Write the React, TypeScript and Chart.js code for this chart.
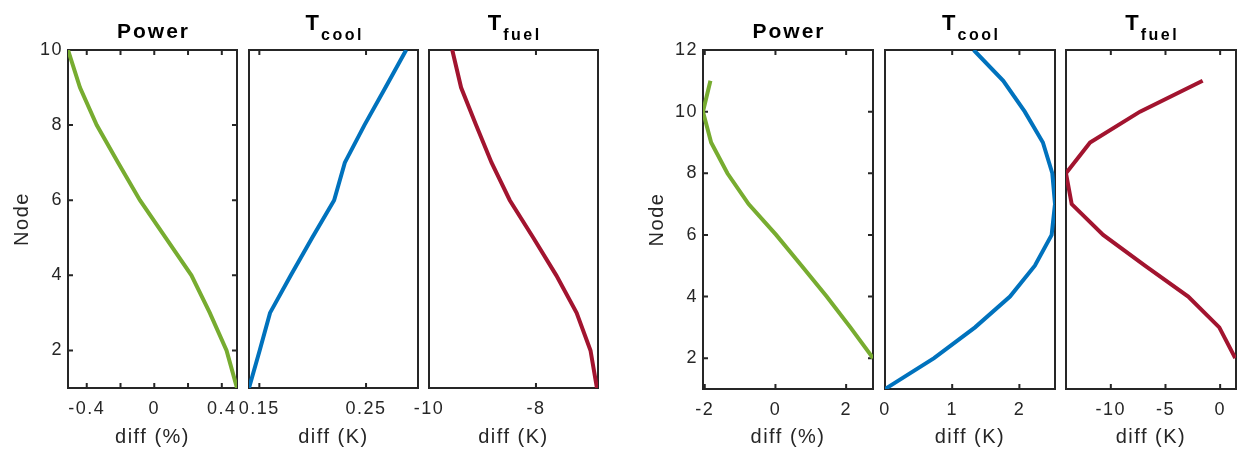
import React, { useEffect, useRef } from 'react';
import { Chart, registerables } from 'chart.js';

Chart.register(...registerables);

// ---------------- DATA ----------------
// Left group (nodes 1..10)
const nodesLeft = [1, 2, 3, 4, 5, 6, 7, 8, 9, 10];
const powerLeft = [0.49, 0.428, 0.329, 0.22, 0.068, -0.085, -0.214, -0.341, -0.44, -0.511];
const coolLeft = [0.1403, 0.1503, 0.16, 0.1795, 0.1995, 0.2201, 0.2301, 0.2485, 0.2682, 0.2876];
const fuelLeft = [-6.86, -6.98, -7.24, -7.62, -8.05, -8.49, -8.83, -9.12, -9.4, -9.565];

// Right group
const nodesRightCool = [1, 2, 3, 4, 5, 6, 7, 8, 9, 10, 11, 12];
const nodesRightPowerFuel = [2, 3, 4, 5, 6, 7, 8, 9, 10, 11];
const powerRight = [2.76, 2.12, 1.45, 0.74, 0.02, -0.76, -1.36, -1.82, -2.05, -1.84];
const coolRight = [0.0, 0.73, 1.34, 1.86, 2.23, 2.48, 2.53, 2.49, 2.35, 2.08, 1.76, 1.32];
const fuelRight = [1.38, -0.08, -2.92, -6.88, -10.7, -13.58, -14.1, -11.9, -7.33, -1.6];

// Tick values and labels
const yTicksLeft = [2, 4, 6, 8, 10];
const yTicksRight = [2, 4, 6, 8, 10, 12];
const xTicksPowerLeft = [-0.4, -0.2, 0, 0.2, 0.4];
const xTickLabelsPowerLeft = ['-0.4', '', '0', '', '0.4'];
const xTicksCoolLeft = [0.15, 0.25];
const xTickLabelsCoolLeft = ['0.15', '0.25'];
const xTicksFuelLeft = [-10, -8];
const xTickLabelsFuelLeft = ['-10', '-8'];
const xTicksPowerRight = [-2, 0, 2];
const xTickLabelsPowerRight = ['-2', '0', '2'];
const xTicksCoolRight = [0, 1, 2];
const xTickLabelsCoolRight = ['0', '1', '2'];
const xTicksFuelRight = [-10, -5, 0];
const xTickLabelsFuelRight = ['-10', '-5', '0'];

// Texts
const titlesMain = ['Power', 'T', 'T'];
const titlesSub = ['', 'cool', 'fuel'];
const xAxisLabels = ['diff (%)', 'diff (K)', 'diff (K)'];
const yAxisLabel = 'Node';

// Axis limits
const yRangeLeft = [1, 10];
const yRangeRight = [1, 12];
const xRangePowerLeft = [-0.511, 0.49];
const xRangeCoolLeft = [0.1403, 0.2987];
const xRangeFuelLeft = [-10, -6.84];
const xRangePowerRight = [-2.05, 2.76];
const xRangeCoolRight = [0, 2.53];
const xRangeFuelRight = [-14.1, 1.45];

// ---------------- STYLE / LAYOUT ----------------
const W = 1237;
const H = 452;
const PAD = 40;
const FONT = "'Liberation Sans', Arial, Helvetica, sans-serif";
const AX = '#262626';
const GREEN = '#77AC30';
const BLUE = '#0072BD';
const RED = '#A2142F';

type PanelSpec = {
  L: number; R: number; T: number; B: number;
  canvasLeft: number;
  nodes: number[]; values: number[]; color: string;
  xRange: number[]; yRange: number[];
  xTicks: number[]; xTickLabels: string[];
  yTicks: number[] | null;
  yTitleCenter: number;
  xLabel: string; titleMain: string; titleSub: string;
};

const panels: PanelSpec[] = [
  { L: 68, R: 237, T: 50, B: 388, canvasLeft: 0, nodes: nodesLeft, values: powerLeft, color: GREEN,
    xRange: xRangePowerLeft, yRange: yRangeLeft, xTicks: xTicksPowerLeft, xTickLabels: xTickLabelsPowerLeft,
    yTicks: yTicksLeft, yTitleCenter: 22.8, xLabel: xAxisLabels[0], titleMain: titlesMain[0], titleSub: titlesSub[0] },
  { L: 249, R: 418, T: 50, B: 388, canvasLeft: 249 - PAD, nodes: nodesLeft, values: coolLeft, color: BLUE,
    xRange: xRangeCoolLeft, yRange: yRangeLeft, xTicks: xTicksCoolLeft, xTickLabels: xTickLabelsCoolLeft,
    yTicks: null, yTitleCenter: 0, xLabel: xAxisLabels[1], titleMain: titlesMain[1], titleSub: titlesSub[1] },
  { L: 429, R: 598, T: 50, B: 388, canvasLeft: 429 - PAD, nodes: nodesLeft, values: fuelLeft, color: RED,
    xRange: xRangeFuelLeft, yRange: yRangeLeft, xTicks: xTicksFuelLeft, xTickLabels: xTickLabelsFuelLeft,
    yTicks: null, yTitleCenter: 0, xLabel: xAxisLabels[2], titleMain: titlesMain[2], titleSub: titlesSub[2] },
  { L: 703, R: 873, T: 50, B: 389, canvasLeft: 620, nodes: nodesRightPowerFuel, values: powerRight, color: GREEN,
    xRange: xRangePowerRight, yRange: yRangeRight, xTicks: xTicksPowerRight, xTickLabels: xTickLabelsPowerRight,
    yTicks: yTicksRight, yTitleCenter: 657.2 - 620, xLabel: xAxisLabels[0], titleMain: titlesMain[0], titleSub: titlesSub[0] },
  { L: 885, R: 1055, T: 50, B: 389, canvasLeft: 885 - PAD, nodes: nodesRightCool, values: coolRight, color: BLUE,
    xRange: xRangeCoolRight, yRange: yRangeRight, xTicks: xTicksCoolRight, xTickLabels: xTickLabelsCoolRight,
    yTicks: null, yTitleCenter: 0, xLabel: xAxisLabels[1], titleMain: titlesMain[1], titleSub: titlesSub[1] },
  { L: 1066, R: 1236, T: 50, B: 389, canvasLeft: 1066 - PAD, nodes: nodesRightPowerFuel, values: fuelRight, color: RED,
    xRange: xRangeFuelRight, yRange: yRangeRight, xTicks: xTicksFuelRight, xTickLabels: xTickLabelsFuelRight,
    yTicks: null, yTitleCenter: 0, xLabel: xAxisLabels[2], titleMain: titlesMain[2], titleSub: titlesSub[2] },
];

const TICK_LEN = 5;

function framePlugin(p: PanelSpec) {
  return {
    id: 'frameAndTitle',
    beforeDraw(chart: any) {
      (chart.ctx as any).letterSpacing = '1.5px';
    },
    beforeDatasetsDraw(chart: any) {
      const { ctx, chartArea: a, scales } = chart;
      ctx.save();
      ctx.strokeStyle = AX;
      ctx.lineWidth = 2;
      ctx.strokeRect(a.left, a.top, a.right - a.left, a.bottom - a.top);
      ctx.beginPath();
      for (const t of scales.x.ticks) {
        const px = scales.x.getPixelForValue(t.value);
        if (px <= a.left + 1 || px >= a.right - 1) continue;
        ctx.moveTo(px, a.bottom);
        ctx.lineTo(px, a.bottom - TICK_LEN);
        ctx.moveTo(px, a.top);
        ctx.lineTo(px, a.top + TICK_LEN);
      }
      if (p.yTicks) {
        for (const t of scales.y.ticks) {
          const py = scales.y.getPixelForValue(t.value);
          if (py <= a.top + 1 || py >= a.bottom - 1) continue;
          ctx.moveTo(a.left, py);
          ctx.lineTo(a.left + TICK_LEN, py);
          ctx.moveTo(a.right, py);
          ctx.lineTo(a.right - TICK_LEN, py);
        }
      }
      ctx.stroke();
      ctx.restore();
    },
    afterDraw(chart: any) {
      const { ctx, chartArea: a } = chart;
      const cx = (a.left + a.right) / 2;
      ctx.save();
      ctx.fillStyle = '#000';
      ctx.textBaseline = 'alphabetic';
      if (p.titleSub) {
        ctx.font = `bold 22px ${FONT}`;
        (ctx as any).letterSpacing = '0px';
        const wT = ctx.measureText(p.titleMain).width;
        ctx.font = `bold 16px ${FONT}`;
        (ctx as any).letterSpacing = '2.5px';
        const wS = ctx.measureText(p.titleSub).width - 2.5;
        const gap = 2;
        const start = cx - (wT + gap + wS) / 2;
        ctx.textAlign = 'left';
        ctx.font = `bold 22px ${FONT}`;
        (ctx as any).letterSpacing = '0px';
        ctx.fillText(p.titleMain, start, 30);
        ctx.font = `bold 16px ${FONT}`;
        (ctx as any).letterSpacing = '2.5px';
        ctx.fillText(p.titleSub, start + wT + gap, 40);
      } else {
        ctx.font = `bold 21px ${FONT}`;
        (ctx as any).letterSpacing = '2px';
        const w = ctx.measureText(p.titleMain).width - 2;
        ctx.textAlign = 'left';
        ctx.fillText(p.titleMain, cx - w / 2, 38);
      }
      ctx.restore();
    },
  };
}

function makeConfig(p: PanelSpec): any {
  const showY = !!p.yTicks;
  return {
    type: 'scatter',
    data: {
      datasets: [
        {
          data: p.values.map((v, i) => ({ x: v, y: p.nodes[i] })),
          showLine: true,
          borderColor: p.color,
          backgroundColor: p.color,
          borderWidth: 4,
          pointRadius: 0,
          pointHoverRadius: 0,
          tension: 0,
          fill: false,
        },
      ],
    },
    options: {
      responsive: false,
      animation: false,
      events: [],
      layout: { padding: { left: showY ? 0 : PAD, right: PAD, top: p.T, bottom: 0 } },
      plugins: {
        legend: { display: false },
        tooltip: { enabled: false },
        title: { display: false },
      },
      scales: {
        x: {
          type: 'linear',
          position: 'bottom',
          min: p.xRange[0],
          max: p.xRange[1],
          grid: { display: false, drawTicks: false },
          border: { display: false },
          afterBuildTicks: (s: any) => {
            s.ticks = p.xTicks.map((v) => ({ value: v }));
          },
          afterFit: (s: any) => {
            s.height = H - p.B;
          },
          ticks: {
            autoSkip: false,
            maxRotation: 0,
            minRotation: 0,
            padding: 10,
            color: AX,
            font: { family: FONT, size: 18 },
            callback: (_v: any, i: number) => p.xTickLabels[i],
          },
          title: {
            display: true,
            text: p.xLabel,
            color: AX,
            font: { family: FONT, size: 20 },
            padding: { top: 0, bottom: 3 },
          },
        },
        y: {
          type: 'linear',
          position: 'left',
          display: showY,
          min: p.yRange[0],
          max: p.yRange[1],
          grid: { display: false, drawTicks: false },
          border: { display: false },
          afterBuildTicks: (s: any) => {
            if (p.yTicks) s.ticks = p.yTicks.map((v) => ({ value: v }));
          },
          afterFit: (s: any) => {
            s.width = showY ? p.L - p.canvasLeft : 0;
          },
          ticks: {
            autoSkip: false,
            padding: 5,
            color: AX,
            font: { family: FONT, size: 18 },
            callback: (v: any) => String(v),
          },
          title: {
            display: showY,
            text: yAxisLabel,
            color: AX,
            font: { family: FONT, size: 20 },
            padding: { top: p.yTitleCenter - 12, bottom: 0 },
          },
        },
      },
    },
    plugins: [framePlugin(p)],
  };
}

function Panel({ spec }: { spec: PanelSpec }) {
  const ref = useRef<HTMLCanvasElement>(null);
  const width = spec.R - spec.canvasLeft + PAD;
  useEffect(() => {
    if (!ref.current) return;
    const chart = new Chart(ref.current, makeConfig(spec));
    return () => chart.destroy();
  }, [spec]);
  return (
    <canvas
      ref={ref}
      width={width}
      height={H}
      style={{ position: 'absolute', left: spec.canvasLeft, top: 0, width, height: H, display: 'block' }}
    />
  );
}

export default function App() {
  return (
    <div
      style={{
        position: 'absolute',
        left: 0,
        top: 0,
        width: W,
        height: H,
        overflow: 'hidden',
        background: '#fff',
      }}
    >
      {panels.map((p, i) => (
        <Panel key={i} spec={p} />
      ))}
    </div>
  );
}
